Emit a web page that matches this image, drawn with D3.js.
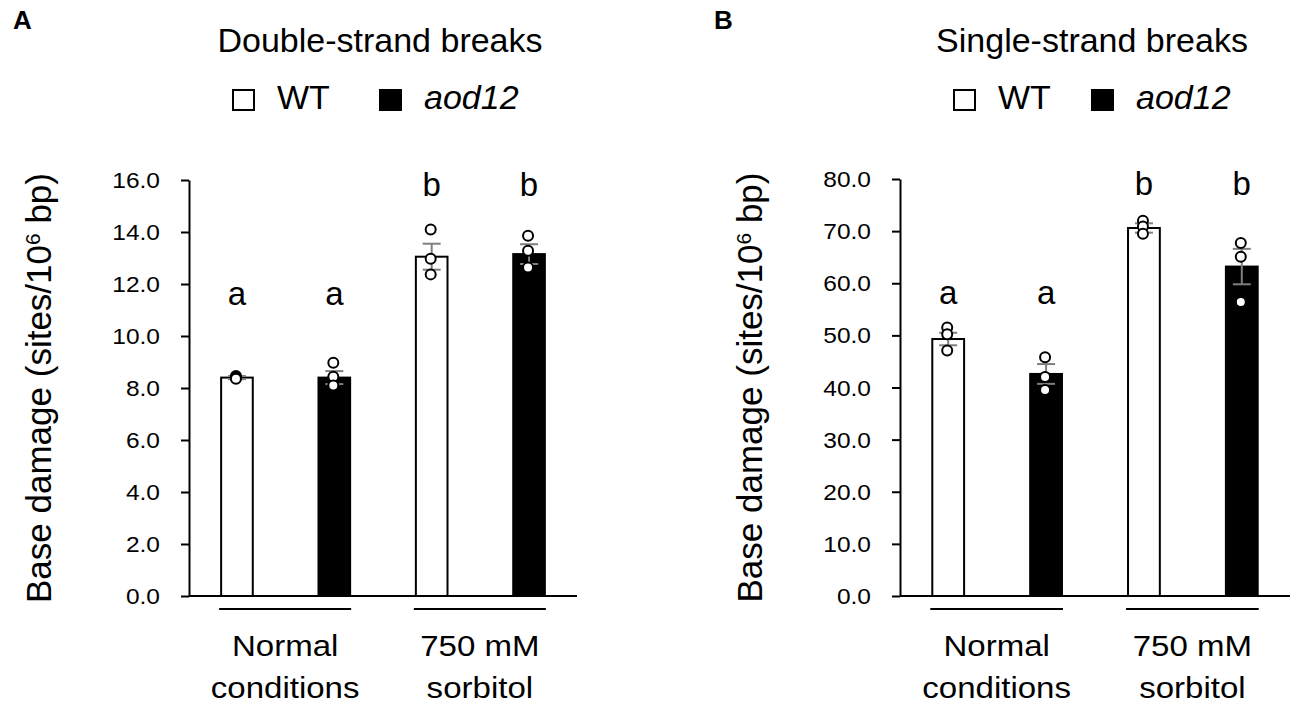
<!DOCTYPE html>
<html>
<head>
<meta charset="utf-8">
<script src="https://cdn.jsdelivr.net/npm/d3@7"></script>
<style>
  body { margin: 0; background: #fff; }
  text { font-family: "Liberation Sans", Arial, sans-serif; fill: #000; }
</style>
</head>
<body>
<div id="chart"></div>
<script>
// Chart size
const width = 1299;
const height = 706;

// Categories
const genotypes = ["WT", "aod12"];
const conditions = [["Normal", "conditions"], ["750 mM", "sorbitol"]];
const barGenotype = [0, 1, 0, 1];
const barCondition = [0, 0, 1, 1];

// Panel A: double-strand breaks
const dsbMean = [8.40, 8.40, 13.05, 13.15];
const dsbSE = [0.06, 0.25, 0.50, 0.38];
const dsbPoints = [[8.46, 8.40, 8.36], [8.97, 8.43, 8.10], [14.10, 12.97, 12.37], [13.86, 13.28, 12.63]];
const dsbLetters = ["a", "a", "b", "b"];
const dsbLetterY = [11.2, 11.2, 15.4, 15.4];
const dsbTicks = [0, 2, 4, 6, 8, 10, 12, 14, 16];

// Panel B: single-strand breaks
const ssbMean = [49.3, 42.6, 70.6, 63.2];
const ssbSE = [1.2, 1.9, 0.9, 3.4];
const ssbPoints = [[51.5, 50.2, 47.1], [45.8, 42.0, 39.5], [72.0, 70.9, 69.5], [67.7, 65.1, 56.4]];
const ssbLetters = ["a", "a", "b", "b"];
const ssbLetterY = [56, 56, 77, 77];
const ssbTicks = [0, 10, 20, 30, 40, 50, 60, 70, 80];

const svg = d3.select("#chart").append("svg")
    .attr("width", width)
    .attr("height", height);

// text helper, optionally stretched horizontally around its anchor
function label(parent, x, y, str, size, anchor, stretch) {
    return parent.append("text")
        .attr("transform", `translate(${x},${y}) scale(${stretch},1)`)
        .attr("text-anchor", anchor)
        .style("font-size", size + "px")
        .text(str);
}

function drawPanel(p) {
    const g = svg.append("g");

    const y = d3.scaleLinear()
        .domain([0, d3.max(p.ticks)])
        .range([596, p.top]);

    const x = d3.scaleBand()
        .domain(d3.range(p.mean.length))
        .range([p.left, p.right])
        .paddingInner(0.675)
        .paddingOuter(0.33);
    const bw = x.bandwidth();

    // panel letter
    g.append("text")
        .attr("x", p.letterX)
        .attr("y", 29)
        .style("font-size", "26px")
        .style("font-weight", "bold")
        .text(p.letter);

    // title, centred over the plot
    label(g, (p.left + p.right) / 2 - 3, 52, p.title, 34, "middle", 1);

    // legend
    genotypes.forEach((name, i) => {
        g.append("rect")
            .attr("x", p.legendX[i])
            .attr("y", 90)
            .attr("width", 21)
            .attr("height", 20)
            .attr("fill", i === 0 ? "#fff" : "#000")
            .attr("stroke", "#000")
            .attr("stroke-width", 2);
        label(g, p.legendX[i] + 44, 109, name, 34, "start", 1)
            .style("font-style", i === 0 ? "normal" : "italic");
    });

    // y axis
    const yAxis = g.append("g")
        .attr("transform", `translate(${p.left},0)`)
        .call(d3.axisLeft(y).tickValues(p.ticks).tickFormat(d3.format(".1f")).tickSize(8).tickSizeOuter(0));
    yAxis.select(".domain").attr("stroke-width", 2);
    yAxis.selectAll(".tick line").attr("stroke-width", 2);
    yAxis.selectAll(".tick text")
        .attr("x", null)
        .attr("dy", null)
        .attr("transform", "translate(-29,7.5) scale(1.14,1)")
        .style("font-size", "21.5px")
        .style("font-family", "'Liberation Sans', Arial, sans-serif")
        .attr("fill", "#000");

    // x axis line
    g.append("line")
        .attr("x1", p.left)
        .attr("x2", p.right)
        .attr("y1", y(0))
        .attr("y2", y(0))
        .attr("stroke", "#000")
        .attr("stroke-width", 2);

    // y axis title
    const yt = g.append("text")
        .attr("transform", `translate(${p.left - 138},${(y(0) + y.range()[1]) / 2}) rotate(-90)`)
        .attr("text-anchor", "middle")
        .style("font-size", "35px");
    yt.append("tspan").text("Base damage (sites/10");
    yt.append("tspan").attr("baseline-shift", "super").style("font-size", "21px").text("6");
    yt.append("tspan").text(" bp)");

    // bars
    g.selectAll(".bar")
        .data(p.mean)
        .enter().append("rect")
        .attr("class", "bar")
        .attr("x", (d, i) => x(i))
        .attr("y", d => y(d))
        .attr("width", bw)
        .attr("height", d => y(0) - y(d))
        .attr("fill", (d, i) => barGenotype[i] === 0 ? "#fff" : "#000")
        .attr("stroke", "#000")
        .attr("stroke-width", 2);

    // error bars
    p.mean.forEach((m, i) => {
        const cx = x(i) + bw / 2;
        const eg = g.append("g").attr("stroke", "#7f7f7f").attr("stroke-width", 2);
        eg.append("line").attr("x1", cx).attr("x2", cx).attr("y1", y(m - p.se[i])).attr("y2", y(m + p.se[i]));
        [m - p.se[i], m + p.se[i]].forEach(v => {
            eg.append("line").attr("x1", cx - 9).attr("x2", cx + 9).attr("y1", y(v)).attr("y2", y(v));
        });
    });

    // individual points
    p.points.forEach((pts, i) => {
        g.selectAll(null)
            .data(pts)
            .enter().append("circle")
            .attr("cx", x(i) + bw / 2 - 1)
            .attr("cy", d => y(d))
            .attr("r", 5)
            .attr("fill", "#fff")
            .attr("stroke", "#000")
            .attr("stroke-width", 2);
    });

    // significance letters
    p.letters.forEach((t, i) => {
        g.append("text")
            .attr("x", x(i) + bw / 2)
            .attr("y", y(p.letterY[i]))
            .attr("text-anchor", "middle")
            .style("font-size", "33px")
            .text(t);
    });

    // condition underlines and labels
    conditions.forEach((lines, c) => {
        const idx = d3.range(p.mean.length).filter(i => barCondition[i] === c);
        const x1 = x(idx[0]) - 2;
        const x2 = x(idx[idx.length - 1]) + bw + 1;
        g.append("line")
            .attr("x1", x1).attr("x2", x2)
            .attr("y1", 609).attr("y2", 609)
            .attr("stroke", "#000")
            .attr("stroke-width", 2);
        lines.forEach((ln, k) => {
            label(g, (x1 + x2) / 2, 656 + k * 42, ln, 29.5, "middle", 1.12);
        });
    });
}

drawPanel({
    letter: "A", letterX: 13, title: "Double-strand breaks",
    legendX: [233, 380], left: 189, right: 577, top: 180,
    mean: dsbMean, se: dsbSE, points: dsbPoints,
    letters: dsbLetters, letterY: dsbLetterY, ticks: dsbTicks
});

drawPanel({
    letter: "B", letterX: 714, title: "Single-strand breaks",
    legendX: [954, 1092], left: 900, right: 1290, top: 179,
    mean: ssbMean, se: ssbSE, points: ssbPoints,
    letters: ssbLetters, letterY: ssbLetterY, ticks: ssbTicks
});
</script>
</body>
</html>
